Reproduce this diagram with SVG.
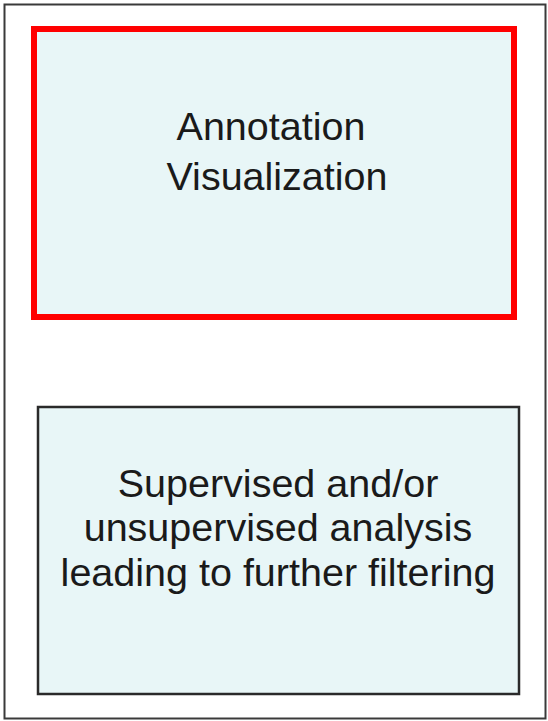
<svg xmlns="http://www.w3.org/2000/svg" width="548" height="721" viewBox="0 0 548 721">
<style>
.lbl{font-family:"Liberation Sans",Arial,sans-serif;font-size:39.5px;fill:#1a1a1a;text-anchor:middle}
.box{fill:#e8f6f7}
</style>
<rect x="0" y="0" width="548" height="721" fill="#ffffff"/>
<rect id="frame" x="4.5" y="4.5" width="541" height="714" fill="none" stroke="#3a3a3a" stroke-width="2"/>
<g id="annotation">
<rect class="box" x="34" y="29" width="480" height="288" stroke="#ff0000" stroke-width="6"/>
<text class="lbl" x="271" y="140">Annotation</text>
<text class="lbl" x="277" y="190">Visualization</text>
</g>
<g id="analysis">
<rect class="box" x="38" y="407" width="481" height="287" stroke="#2a2a2a" stroke-width="2.5"/>
<text class="lbl" x="278" y="497">Supervised and/or</text>
<text class="lbl" x="278" y="541">unsupervised analysis</text>
<text class="lbl" x="278" y="586">leading to further filtering</text>
</g>
<g id="connectors"></g>
</svg>
